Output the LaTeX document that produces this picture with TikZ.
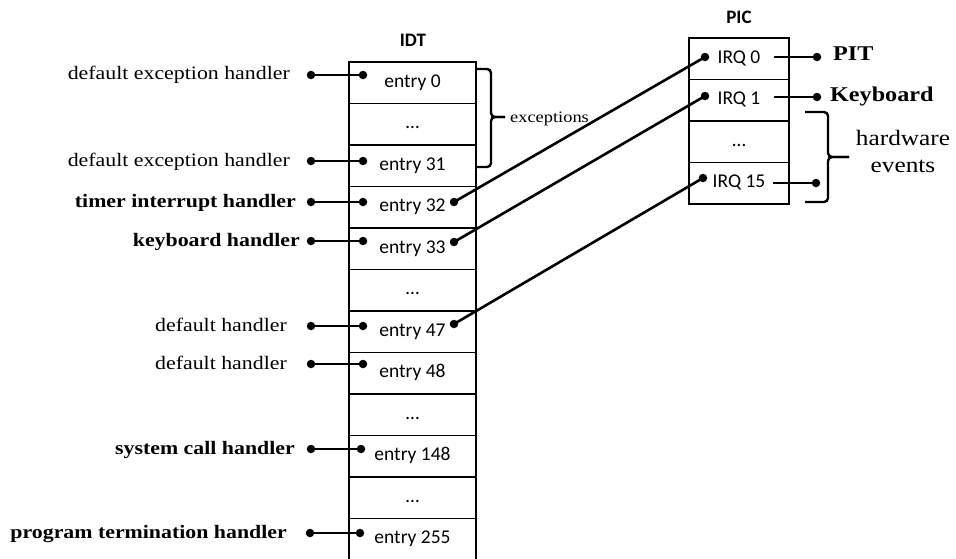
\documentclass[tikz,border=0pt]{standalone}
\usepackage{fontspec}
\setmainfont{Liberation Serif}[FakeStretch=1.15]
\newfontfamily\entryfont{Carlito}
\begin{document}
\begin{tikzpicture}[x=1pt,y=-1pt,
  cell/.style={draw, line width=1.5pt, inner sep=0pt, text height=13pt, text depth=4pt,
    font=\entryfont\fontsize{19.5}{22}\selectfont},
  idtcell/.style={cell, minimum width=127pt, minimum height=41.5pt},
  piccell/.style={cell, minimum width=100pt, minimum height=41.5pt},
  title/.style={font=\entryfont\bfseries\fontsize{19}{22}\selectfont},
  dot/.style={circle, fill, inner sep=0pt, minimum size=8.5pt},
  conn/.style={line width=2.6pt},
  brc/.style={line width=2.4pt, rounded corners=4pt},
  lab/.style={anchor=base east, inner sep=0pt, font=\fontsize{19}{22}\selectfont},
  blab/.style={lab, font=\bfseries\fontsize{19}{22}\selectfont},
  big/.style={anchor=base west, inner sep=0pt, font=\bfseries\fontsize{21}{24}\selectfont}]
\useasboundingbox (0,0) rectangle (956,558);

% ---- IDT table ----
\node[title] (idt) at (413,40) {IDT};
\node[idtcell] (r0)  at (412.5,82.75)  {entry 0};
\node[idtcell] (r1)  at (412.5,124.25) {…};
\node[idtcell] (r2)  at (412.5,165.75) {entry 31};
\node[idtcell] (r3)  at (412.5,207.25) {entry 32};
\node[idtcell] (r4)  at (412.5,248.75) {entry 33};
\node[idtcell] (r5)  at (412.5,290.25) {…};
\node[idtcell] (r6)  at (412.5,331.75) {entry 47};
\node[idtcell] (r7)  at (412.5,373.25) {entry 48};
\node[idtcell] (r8)  at (412.5,414.75) {…};
\node[idtcell] (r9)  at (412.5,456.25) {entry 148};
\node[idtcell] (r10) at (412.5,497.75) {…};
% last row continues past the bottom edge
\node[idtcell, draw=none, outer sep=0pt] (r11) at (412.5,539.25) {entry 255};
\draw[line width=1.5pt] (r11.north west) -- (r11.north west |- 0,560)
  (r11.north east) -- (r11.north east |- 0,560);

% ---- PIC table ----
\node[title] (pic) at (739,17) {PIC};
\node[piccell] (q0) at (739,58.75)  {IRQ 0};
\node[piccell] (q1) at (739,100.25) {IRQ 1};
\node[piccell] (q2) at (739,141.75) {…};
\node[piccell] (q3) at (739,183.25) {IRQ 15};

% ---- handlers on the left ----
\node[dot] (h0)  at (311,75)  {};  \node[dot] (d0)  at (363,75)  {};
\node[dot] (h2)  at (311,161) {};  \node[dot] (d2)  at (363,161) {};
\node[dot] (h3)  at (311,202) {};  \node[dot] (d3)  at (363,202) {};
\node[dot] (h4)  at (311,241) {};  \node[dot] (d4)  at (363,241) {};
\node[dot] (h6)  at (311,326) {};  \node[dot] (d6)  at (363,326) {};
\node[dot] (h7)  at (311,364) {};  \node[dot] (d7)  at (363,364) {};
\node[dot] (h9)  at (311,449) {};  \node[dot] (d9)  at (361,449) {};
\node[dot] (h11) at (310,533) {};  \node[dot] (d11) at (360,533) {};
\foreach \i in {0,2,3,4,6,7,9,11} \draw[conn] (h\i.center) -- (d\i.center);

\node[lab]  at (290,79)  {default exception handler};
\node[lab]  at (290,166) {default exception handler};
\node[blab] at (296,207) {timer interrupt handler};
\node[blab] at (300,246) {keyboard handler};
\node[lab]  at (287,331) {default handler};
\node[lab]  at (287,369) {default handler};
\node[blab] at (295,454) {system call handler};
\node[blab] at (287,538) {program termination handler};

% ---- IDT entries wired to IRQ lines ----
\node[dot] (e3) at (454,202) {};  \node[dot] (i0) at (705,57)  {};
\node[dot] (e4) at (454,242) {};  \node[dot] (i1) at (705,96)  {};
\node[dot] (e6) at (454,324) {};  \node[dot] (i3) at (703,178) {};
\draw[conn] (e3.center) -- (i0.center);
\draw[conn] (e4.center) -- (i1.center);
\draw[conn] (e6.center) -- (i3.center);

% ---- devices on the right ----
\coordinate (s0) at (774,57);  \node[dot] (t0) at (817,57)  {};
\coordinate (s1) at (774,97);  \node[dot] (t1) at (817,97)  {};
\coordinate (s3) at (773,183); \node[dot] (t3) at (816,183) {};
\draw[conn] (s0) -- (t0.center);
\draw[conn] (s1) -- (t1.center);
\draw[conn] (s3) -- (t3.center);
\node[big] (pit) at (833,60)  {PIT};
\node[big] (kbd) at (830,101) {Keyboard};

% ---- braces ----
\draw[brc] (476,69) -- (491,69) -- (491,117) -- (505,117);
\draw[brc] (476,167) -- (491,167) -- (491,117) -- (505,117);
\node[anchor=base west, inner sep=0pt, font=\fontsize{16}{18}\selectfont] (exc) at (510,122) {exceptions};

\draw[brc] (805,112) -- (828,112) -- (828,157) -- (849,157);
\draw[brc] (805,202) -- (828,202) -- (828,157) -- (849,157);
\node[align=center, inner sep=0pt, font=\fontsize{22}{27}\selectfont] (hw) at (903,151) {hardware\\events};
\end{tikzpicture}
\end{document}
